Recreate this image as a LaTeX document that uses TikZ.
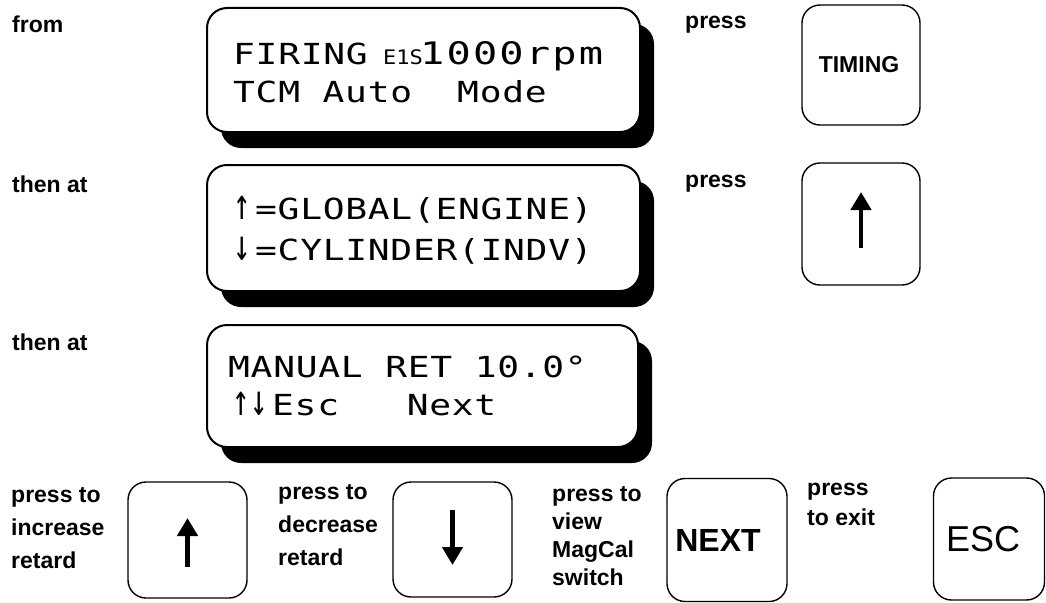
\documentclass[tikz,border=0pt]{standalone}
\usepackage{fontspec}
\setmainfont{Liberation Sans}
\newfontfamily\lcd{DejaVu Sans Mono}[FakeStretch=1.25, LetterSpace=2.5]
\newfontfamily\lcdwide{DejaVu Sans Mono}[FakeStretch=1.3, LetterSpace=7]
\newfontfamily\lcdplain{DejaVu Sans Mono}[FakeStretch=1.1]
\usetikzlibrary{arrows.meta,shadows}

% tall, narrow LCD arrows
\newcommand{\lcdup}{\makebox[22pt][l]{\scalebox{0.8}[1.5]{↑}}}
\newcommand{\lcddown}{\makebox[22pt][l]{\scalebox{0.8}[1.5]{↓}}}

\tikzset{
  lcdpanel/.style={draw, line width=2pt, fill=white, rounded corners=20pt,
    inner sep=0pt,
    drop shadow={shadow xshift=14pt, shadow yshift=-16pt, fill=black, opacity=1}},
  lcdtext/.style={anchor=base west, inner sep=0pt,
    font=\lcd\fontsize{29}{37}\selectfont},
  keybox/.style={draw, line width=1.4pt, rounded corners=18pt, inner sep=0pt},
  keybold/.style={font=\bfseries\fontsize{#1}{#1}\selectfont},
  keyarrow/.style={line width=4.5pt, -{Triangle[length=18pt,width=20pt]}},
  caption/.style={anchor=base west, inner sep=0pt,
    font=\bfseries\fontsize{23}{33}\selectfont},
}

\begin{document}
\begin{tikzpicture}[x=1pt,y=-1pt]
\useasboundingbox (0,0) rectangle (1046,602);

% left-hand step captions
\node[caption] (from)  at (12,33)  {from};
\node[caption] (then1) at (12,192) {then at};
\node[caption] (then2) at (12,350) {then at};

% display panels
\node[lcdpanel, minimum width=433pt, minimum height=124pt] (disp1) at (423.5,70) {};
\node[lcdpanel, minimum width=433pt, minimum height=126pt] (disp2) at (423.5,228) {};
\node[lcdpanel, minimum width=431pt, minimum height=122pt] (disp3) at (422.5,386) {};

% display contents
\node[lcdtext] (txt1) at (233,64) {\vtop{\baselineskip=38pt
  \hbox{\makebox[150pt][l]{FIRING}\makebox[37pt][l]{\lcdplain\fontsize{20}{20}\selectfont E1S}{\lcdwide\fontsize{31}{31}\selectfont 1000rpm}}
  \hbox{TCM Auto\ \ Mode}}};
\node[lcdtext] (txt2) at (233,219) {\vtop{\baselineskip=41pt
  \hbox{\lcdup=GLOBAL(ENGINE)}
  \hbox{\lcddown=CYLINDER(INDV)}}};
\node[lcdtext] (txt3) at (228,377) {\vtop{\baselineskip=38pt
  \hbox{MANUAL RET 10.0°}
  \hbox{\hspace*{4pt}\makebox[18pt][l]{\scalebox{0.8}[1.5]{↑}}\lcddown Esc\ \ \ Next}}};

% right-hand captions and keys
\node[caption] (press1) at (685,29)  {press};
\node[caption] (press2) at (685,187) {press};
\node[keybox, minimum width=118pt, minimum height=120pt, keybold=23] (timing) at (861,65) {\makebox[0pt]{\hspace*{-4pt}TIMING}};
\node[keybox, minimum width=118pt, minimum height=122pt] (upkey) at (861,224) {};
\draw[keyarrow] ([yshift=-24pt]upkey.center) -- ([yshift=32pt]upkey.center);

% bottom row of captions and keys
\node[caption] (incr) at (11,502) {\vtop{\baselineskip=33pt
  \hbox{press to}\hbox{increase}\hbox{retard}}};
\node[keybox, minimum width=119pt, minimum height=116pt] (incKey) at (187.5,540) {};
\draw[keyarrow] ([yshift=-27pt]incKey.center) -- ([yshift=22pt]incKey.center);

\node[caption] (decr) at (278,499) {\vtop{\baselineskip=33pt
  \hbox{press to}\hbox{decrease}\hbox{retard}}};
\node[keybox, minimum width=119pt, minimum height=115pt] (decKey) at (452.5,539.5) {};
\draw[keyarrow] ([yshift=29.5pt]decKey.center) -- ([yshift=-25.5pt]decKey.center);

\node[caption] (view) at (552,501) {\vtop{\baselineskip=28pt
  \hbox{press to}\hbox{view}\hbox{MagCal}\hbox{switch}}};
\node[keybox, minimum width=120pt, minimum height=123pt, keybold=32] (nextKey) at (727,540) {\makebox[0pt]{\hspace*{-18pt}NEXT}};

\node[caption] (exit) at (807,495) {\vtop{\baselineskip=30pt
  \hbox{press}\hbox{to exit}}};
\node[keybox, minimum width=111pt, minimum height=122pt,
  font=\fontsize{36}{36}\selectfont] (escKey) at (989,539) {\makebox[0pt]{\hspace*{-12pt}ESC}};
\end{tikzpicture}
\end{document}
